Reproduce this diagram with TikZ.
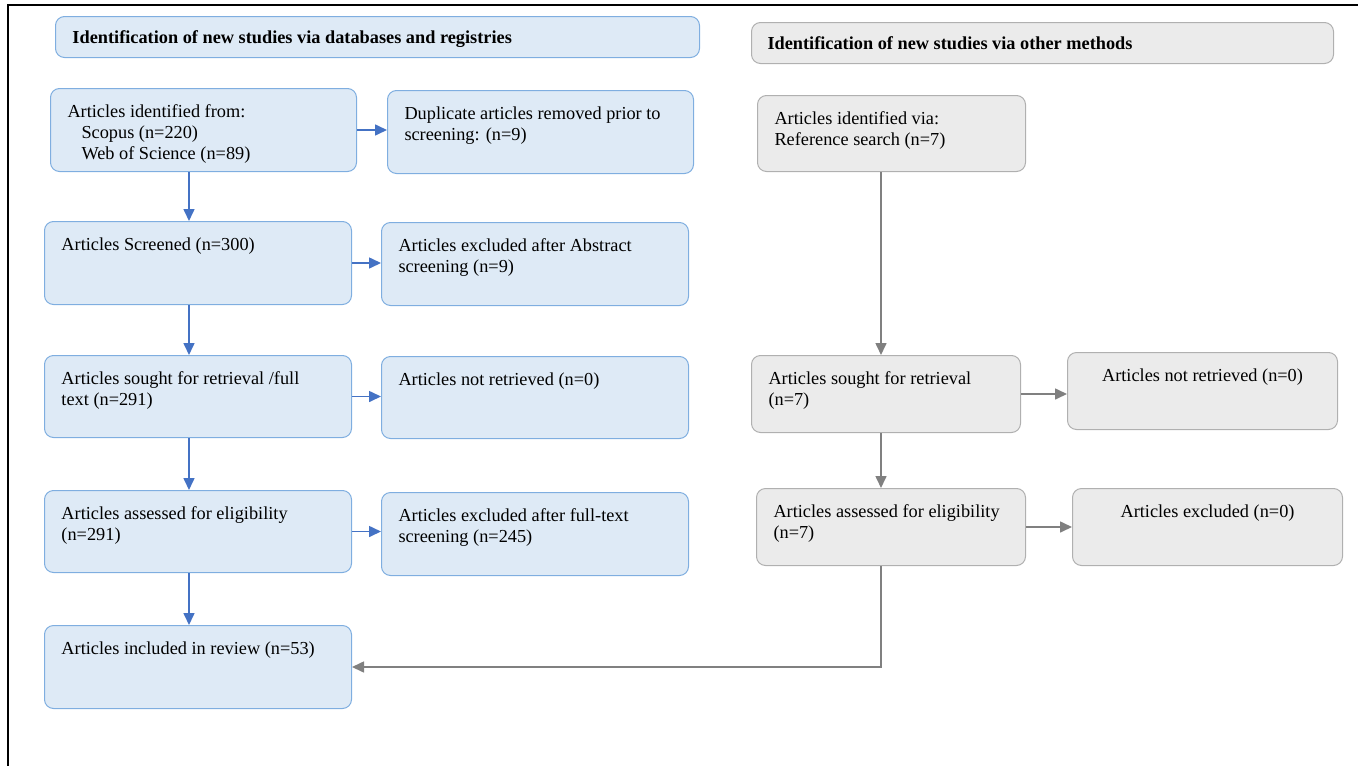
\documentclass[tikz,border=0pt]{standalone}
\usepackage{fontspec}
\setmainfont{Liberation Serif}
\usepackage{tikz}
\usetikzlibrary{arrows.meta,positioning,calc}
\usepackage{xcolor}
\definecolor{bfill}{HTML}{DEEAF6}
\definecolor{bline}{HTML}{7FAEE0}
\definecolor{barrow}{HTML}{4472C4}
\definecolor{gfill}{HTML}{EBEBEB}
\definecolor{gline}{HTML}{B0B0B0}
\definecolor{garrow}{HTML}{808080}
\tikzset{
  bbox/.style  = {draw=bline, fill=bfill, line width=1pt, rounded corners=9pt,
                  inner sep=0pt, anchor=north west},
  gbox/.style  = {draw=gline, fill=gfill, line width=1pt, rounded corners=9pt,
                  inner sep=0pt, anchor=north west},
  bsig/.style  = {-{Triangle[length=12pt,width=11pt]}, draw=barrow, line width=1.6pt},
  gsig/.style  = {-{Triangle[length=12pt,width=11pt]}, draw=garrow, line width=1.6pt},
}
% text of a box: width, height, text (top gap optional)
\newcommand{\boxtxt}[4][16.5]{\parbox[c][#3pt][t]{#2pt}{\vspace*{#1pt}\raggedright\leftskip=17pt #4}}
\newcommand{\boxmid}[3]{\parbox[c][#2pt][t]{#1pt}{\vspace*{16.5pt}\centering #3}}

\begin{document}
\begin{tikzpicture}[x=1pt,y=1pt,font=\fontsize{18.3}{21}\selectfont]
\useasboundingbox (0,0) rectangle (1358,-766);
% ---- frame ----
\draw[line width=2pt] (8,-766) -- (8,-5) -- (1358,-5);
% ---- left: databases and registries ----
\node[bbox] (TL) at (55,-16) {\boxtxt[14]{644}{41}{\textbf{Identification of new studies via databases and registries}}};
\node[bbox] (A1) at (50,-88) {\boxtxt{306}{83}{Articles identified from:\\\hspace*{14pt}Scopus (n=220)\\\hspace*{14pt}Web of Science (n=89)}};
\node[bbox] (D1) at (387,-90) {\boxtxt{306}{83}{Duplicate articles removed prior to\\screening: (n=9)}};
\node[bbox] (A2) at (44,-221) {\boxtxt{307}{83}{Articles Screened (n=300)}};
\node[bbox] (D2) at (381,-222) {\boxtxt{307}{83}{Articles excluded after Abstract\\screening (n=9)}};
\node[bbox] (A3) at (44,-355) {\boxtxt{307}{82}{Articles sought for retrieval /full\\text (n=291)}};
\node[bbox] (D3) at (381,-356) {\boxtxt{307}{82}{Articles not retrieved (n=0)}};
\node[bbox] (A4) at (44,-490) {\boxtxt{307}{82}{Articles assessed for eligibility\\(n=291)}};
\node[bbox] (D4) at (381,-492) {\boxtxt{307}{83}{Articles excluded after full-text\\screening (n=245)}};
\node[bbox] (A5) at (44,-625) {\boxtxt{307}{83}{Articles included in review (n=53)}};
\coordinate (colL) at (189,0);
\foreach \a/\b in {A1/A2, A2/A3, A3/A4, A4/A5}
  \draw[bsig] (\a.south -| colL) -- (\b.north -| colL);
\foreach \a/\b in {A1/D1, A2/D2, A3/D3, A4/D4}
  \draw[bsig] (\a.east) -- (\a.east -| \b.west);
% ---- right: other methods ----
\node[gbox] (TR) at (751,-22) {\boxtxt[14]{582}{41}{\hspace*{-1pt}\textbf{Identification of new studies via other methods}}};
\node[gbox] (R1) at (757,-95) {\boxtxt{268}{76}{Articles identified via:\\Reference search (n=7)}};
\node[gbox] (R2) at (751,-355) {\boxtxt{269}{77}{Articles sought for retrieval\\(n=7)}};
\node[gbox] (N2) at (1067,-352) {\boxmid{270}{77}{Articles not retrieved (n=0)}};
\node[gbox] (R3) at (756,-488) {\boxtxt{269}{77}{Articles assessed for eligibility\\(n=7)}};
\node[gbox] (N3) at (1072,-488) {\boxmid{270}{77}{Articles excluded (n=0)}};
\coordinate (colR) at (881,0);
\draw[gsig] (R1.south -| colR) -- (R2.north -| colR);
\draw[gsig] (R2.south -| colR) -- (R3.north -| colR);
\draw[gsig] (R2.east) -- (R2.east -| N2.west);
\draw[gsig] (R3.east) -- (R3.east -| N3.west);
\draw[gsig] (R3.south -| colR) |- (A5.east);
\end{tikzpicture}
\end{document}
